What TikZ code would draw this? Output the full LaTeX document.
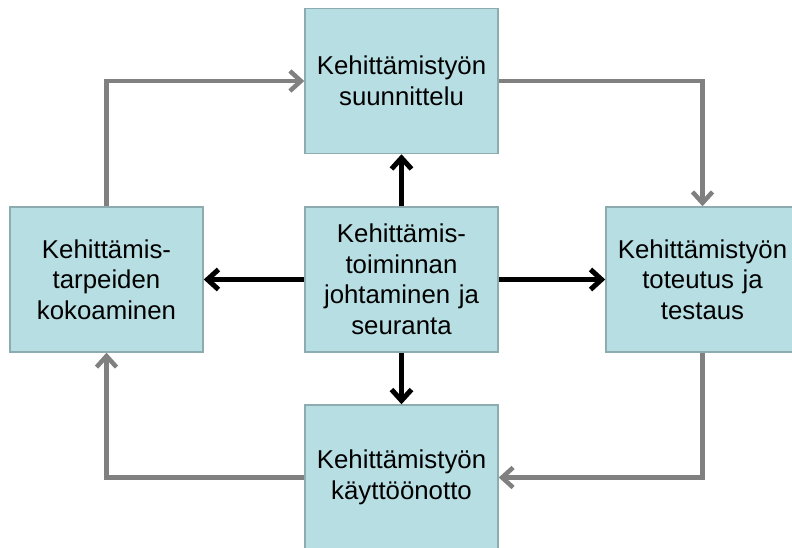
\documentclass[tikz,border=0pt]{standalone}
\usepackage{fontspec}
\setmainfont{Liberation Sans}
\usetikzlibrary{arrows.meta}
\definecolor{boxfill}{RGB}{183,222,226}
\definecolor{boxdraw}{RGB}{140,172,175}
\definecolor{flowgray}{RGB}{128,128,128}
\begin{document}
\begin{tikzpicture}[x=1pt,y=-1pt,
  stage/.style={draw=boxdraw,line width=1.5pt,fill=boxfill,rectangle,
    minimum width=193pt,minimum height=145pt,inner sep=0pt,
    text width=185pt,align=center,
    font=\fontsize{25.8pt}{30.5pt}\selectfont},
  flow/.style={draw=flowgray,line width=4.5pt,
    -{Straight Barb[length=11pt,width=20pt,line width=4.5pt]}},
  hub/.style={draw=black,line width=5pt,
    -{Straight Barb[length=11pt,width=20pt,line width=5pt]}}]
\clip (0,0) rectangle (792,547);
\fill[white] (0,0) rectangle (792,547);
\node[stage] (top) at (401.5,81) {Kehittämistyön\\suunnittelu};
\node[stage] (left) at (106.5,279.5) {Kehittämis-\\tarpeiden\\kokoaminen};
\node[stage] (mid) at (401.5,279.5) {Kehittämis-\\toiminnan\\johtaminen ja\\seuranta};
\node[stage] (right) at (702.5,279.5) {Kehittämistyön\\toteutus ja\\testaus};
\node[stage] (bot) at (401.5,477.5) {Kehittämistyön\\käyttöönotto};
\coordinate (c1) at (left.north |- top.west);
\coordinate (c2) at (right.north |- top.east);
\coordinate (c3) at (right.south |- bot.east);
\coordinate (c4) at (left.south |- bot.west);
\draw[flow] (left.north) -- (c1) -- (top.west);
\draw[flow] (top.east) -- (c2) -- (right.north);
\draw[flow] (right.south) -- (c3) -- (bot.east);
\draw[flow] (bot.west) -- (c4) -- (left.south);
\draw[hub] (mid.north) -- (top.south);
\draw[hub] (mid.west) -- (left.east);
\draw[hub] (mid.east) -- (right.west);
\draw[hub] (mid.south) -- (bot.north);
\end{tikzpicture}
\end{document}
